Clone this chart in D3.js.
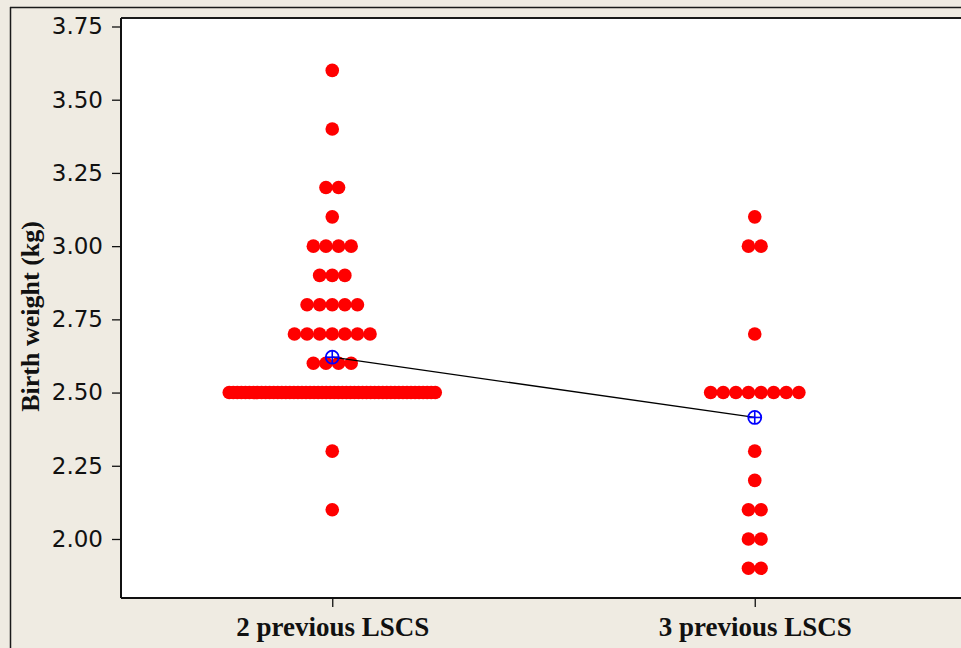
<!DOCTYPE html>
<html>
<head>
<meta charset="utf-8">
<script src="https://cdn.jsdelivr.net/npm/d3@7"></script>
<style>
  html, body { margin: 0; padding: 0; background: #EFEBE2; }
  svg { display: block; }
</style>
</head>
<body>
<svg id="chart" width="961" height="648"></svg>
<script>
// Birth weight by number of previous LSCS: individual value plot with group means
const categories = ["2 previous LSCS", "3 previous LSCS"];

// observed weights (kg) and how many babies had each weight
const twoPrevWeights = [3.6, 3.4, 3.2, 3.1, 3.0, 2.9, 2.8, 2.7, 2.6, 2.5, 2.3, 2.1];
const twoPrevCounts  = [1,   1,   2,   1,   4,   3,   5,   7,   4,   52,  1,   1];

const threePrevWeights = [3.1, 3.0, 2.7, 2.5, 2.3, 2.2, 2.1, 2.0, 1.9];
const threePrevCounts  = [1,   2,   1,   8,   1,   1,   2,   2,   2];

const yTicks = [2.00, 2.25, 2.50, 2.75, 3.00, 3.25, 3.50, 3.75];
const yLabel = "Birth weight (kg)";

const groups = [
  { name: categories[0], weights: twoPrevWeights, counts: twoPrevCounts },
  { name: categories[1], weights: threePrevWeights, counts: threePrevCounts }
];

const svg = d3.select("#chart");
const W = 961, H = 648;
const plot = { left: 121, top: 18, right: 966, bottom: 598 };

const y = d3.scaleLinear().domain([1.7985, 3.779]).range([plot.bottom, plot.top]);
const x = d3.scalePoint().domain(categories).range([plot.left, plot.right]).padding(0.5);

// outer frame lines
svg.append("line").attr("x1", 10.5).attr("x2", 10.5).attr("y1", 7).attr("y2", H)
  .attr("stroke", "#1a1a1a").attr("stroke-width", 1.5);
svg.append("line").attr("x1", 10).attr("x2", W).attr("y1", 7.5).attr("y2", 7.5)
  .attr("stroke", "#1a1a1a").attr("stroke-width", 1.5);

// white data region
svg.append("rect")
  .attr("x", plot.left).attr("y", plot.top)
  .attr("width", plot.right - plot.left).attr("height", plot.bottom - plot.top)
  .attr("fill", "#ffffff");

svg.append("line").attr("x1", plot.left).attr("x2", W).attr("y1", plot.top).attr("y2", plot.top)
  .attr("stroke", "#1a1a1a").attr("stroke-width", 2);

// axes
const yAxis = d3.axisLeft(y).tickValues(yTicks).tickFormat(d3.format(".2f")).tickSize(9).tickPadding(9);
const gy = svg.append("g").attr("transform", `translate(${plot.left},0)`).call(yAxis);
gy.select(".domain").attr("d", `M0,${plot.top}V${plot.bottom}`).attr("stroke", "#111").attr("stroke-width", 2);
gy.selectAll(".tick line").attr("stroke", "#111").attr("stroke-width", 1.3);
gy.selectAll(".tick text")
  .attr("font-family", "'DejaVu Sans', Verdana, sans-serif")
  .attr("font-size", 23).attr("fill", "#111");

const xAxis = d3.axisBottom(x).tickSize(9).tickPadding(10);
const gx = svg.append("g").attr("transform", `translate(0,${plot.bottom})`).call(xAxis);
gx.select(".domain").attr("d", `M${plot.left},0H${W}`).attr("stroke", "#111").attr("stroke-width", 2);
gx.selectAll(".tick line").attr("stroke", "#111").attr("stroke-width", 1.3);
gx.selectAll(".tick text")
  .attr("font-family", "'Liberation Serif', 'Times New Roman', serif")
  .attr("font-weight", "bold").attr("font-size", 27).attr("fill", "#111");

svg.append("text")
  .attr("transform", `translate(39,${y(2.76)}) rotate(-90)`)
  .attr("text-anchor", "middle")
  .attr("font-family", "'Liberation Serif', 'Times New Roman', serif")
  .attr("font-weight", "bold").attr("font-size", 26).attr("fill", "#111")
  .text(yLabel);

// spread identical values side by side around the category centre
const dotStep = 12.6, maxRow = 206;
const dots = [];
groups.forEach(g => {
  g.weights.forEach((w, i) => {
    const n = g.counts[i];
    const step = n > 1 ? Math.min(dotStep, maxRow / (n - 1)) : 0;
    for (let k = 0; k < n; k++) {
      dots.push({ name: g.name, w, off: (k - (n - 1) / 2) * step });
    }
  });
});

svg.append("g").selectAll("circle").data(dots).join("circle")
  .attr("cx", d => x(d.name) + d.off)
  .attr("cy", d => y(d.w))
  .attr("r", 6.8)
  .attr("fill", "#ff0000");

// group means
const means = groups.map(g => ({
  name: g.name,
  mean: d3.sum(g.weights, (w, i) => w * g.counts[i]) / d3.sum(g.counts)
}));

svg.append("path")
  .datum(means)
  .attr("d", d3.line().x(d => x(d.name)).y(d => y(d.mean)))
  .attr("fill", "none").attr("stroke", "#000").attr("stroke-width", 1.3);

const mg = svg.append("g").selectAll("g").data(means).join("g")
  .attr("transform", d => `translate(${x(d.name)},${y(d.mean)})`);
mg.append("circle").attr("r", 6.5).attr("fill", "none").attr("stroke", "#0000ff").attr("stroke-width", 1.8);
mg.append("line").attr("x1", -6.5).attr("x2", 6.5).attr("stroke", "#0000ff").attr("stroke-width", 1.6);
mg.append("line").attr("y1", -6.5).attr("y2", 6.5).attr("stroke", "#0000ff").attr("stroke-width", 1.6);
</script>
</body>
</html>
